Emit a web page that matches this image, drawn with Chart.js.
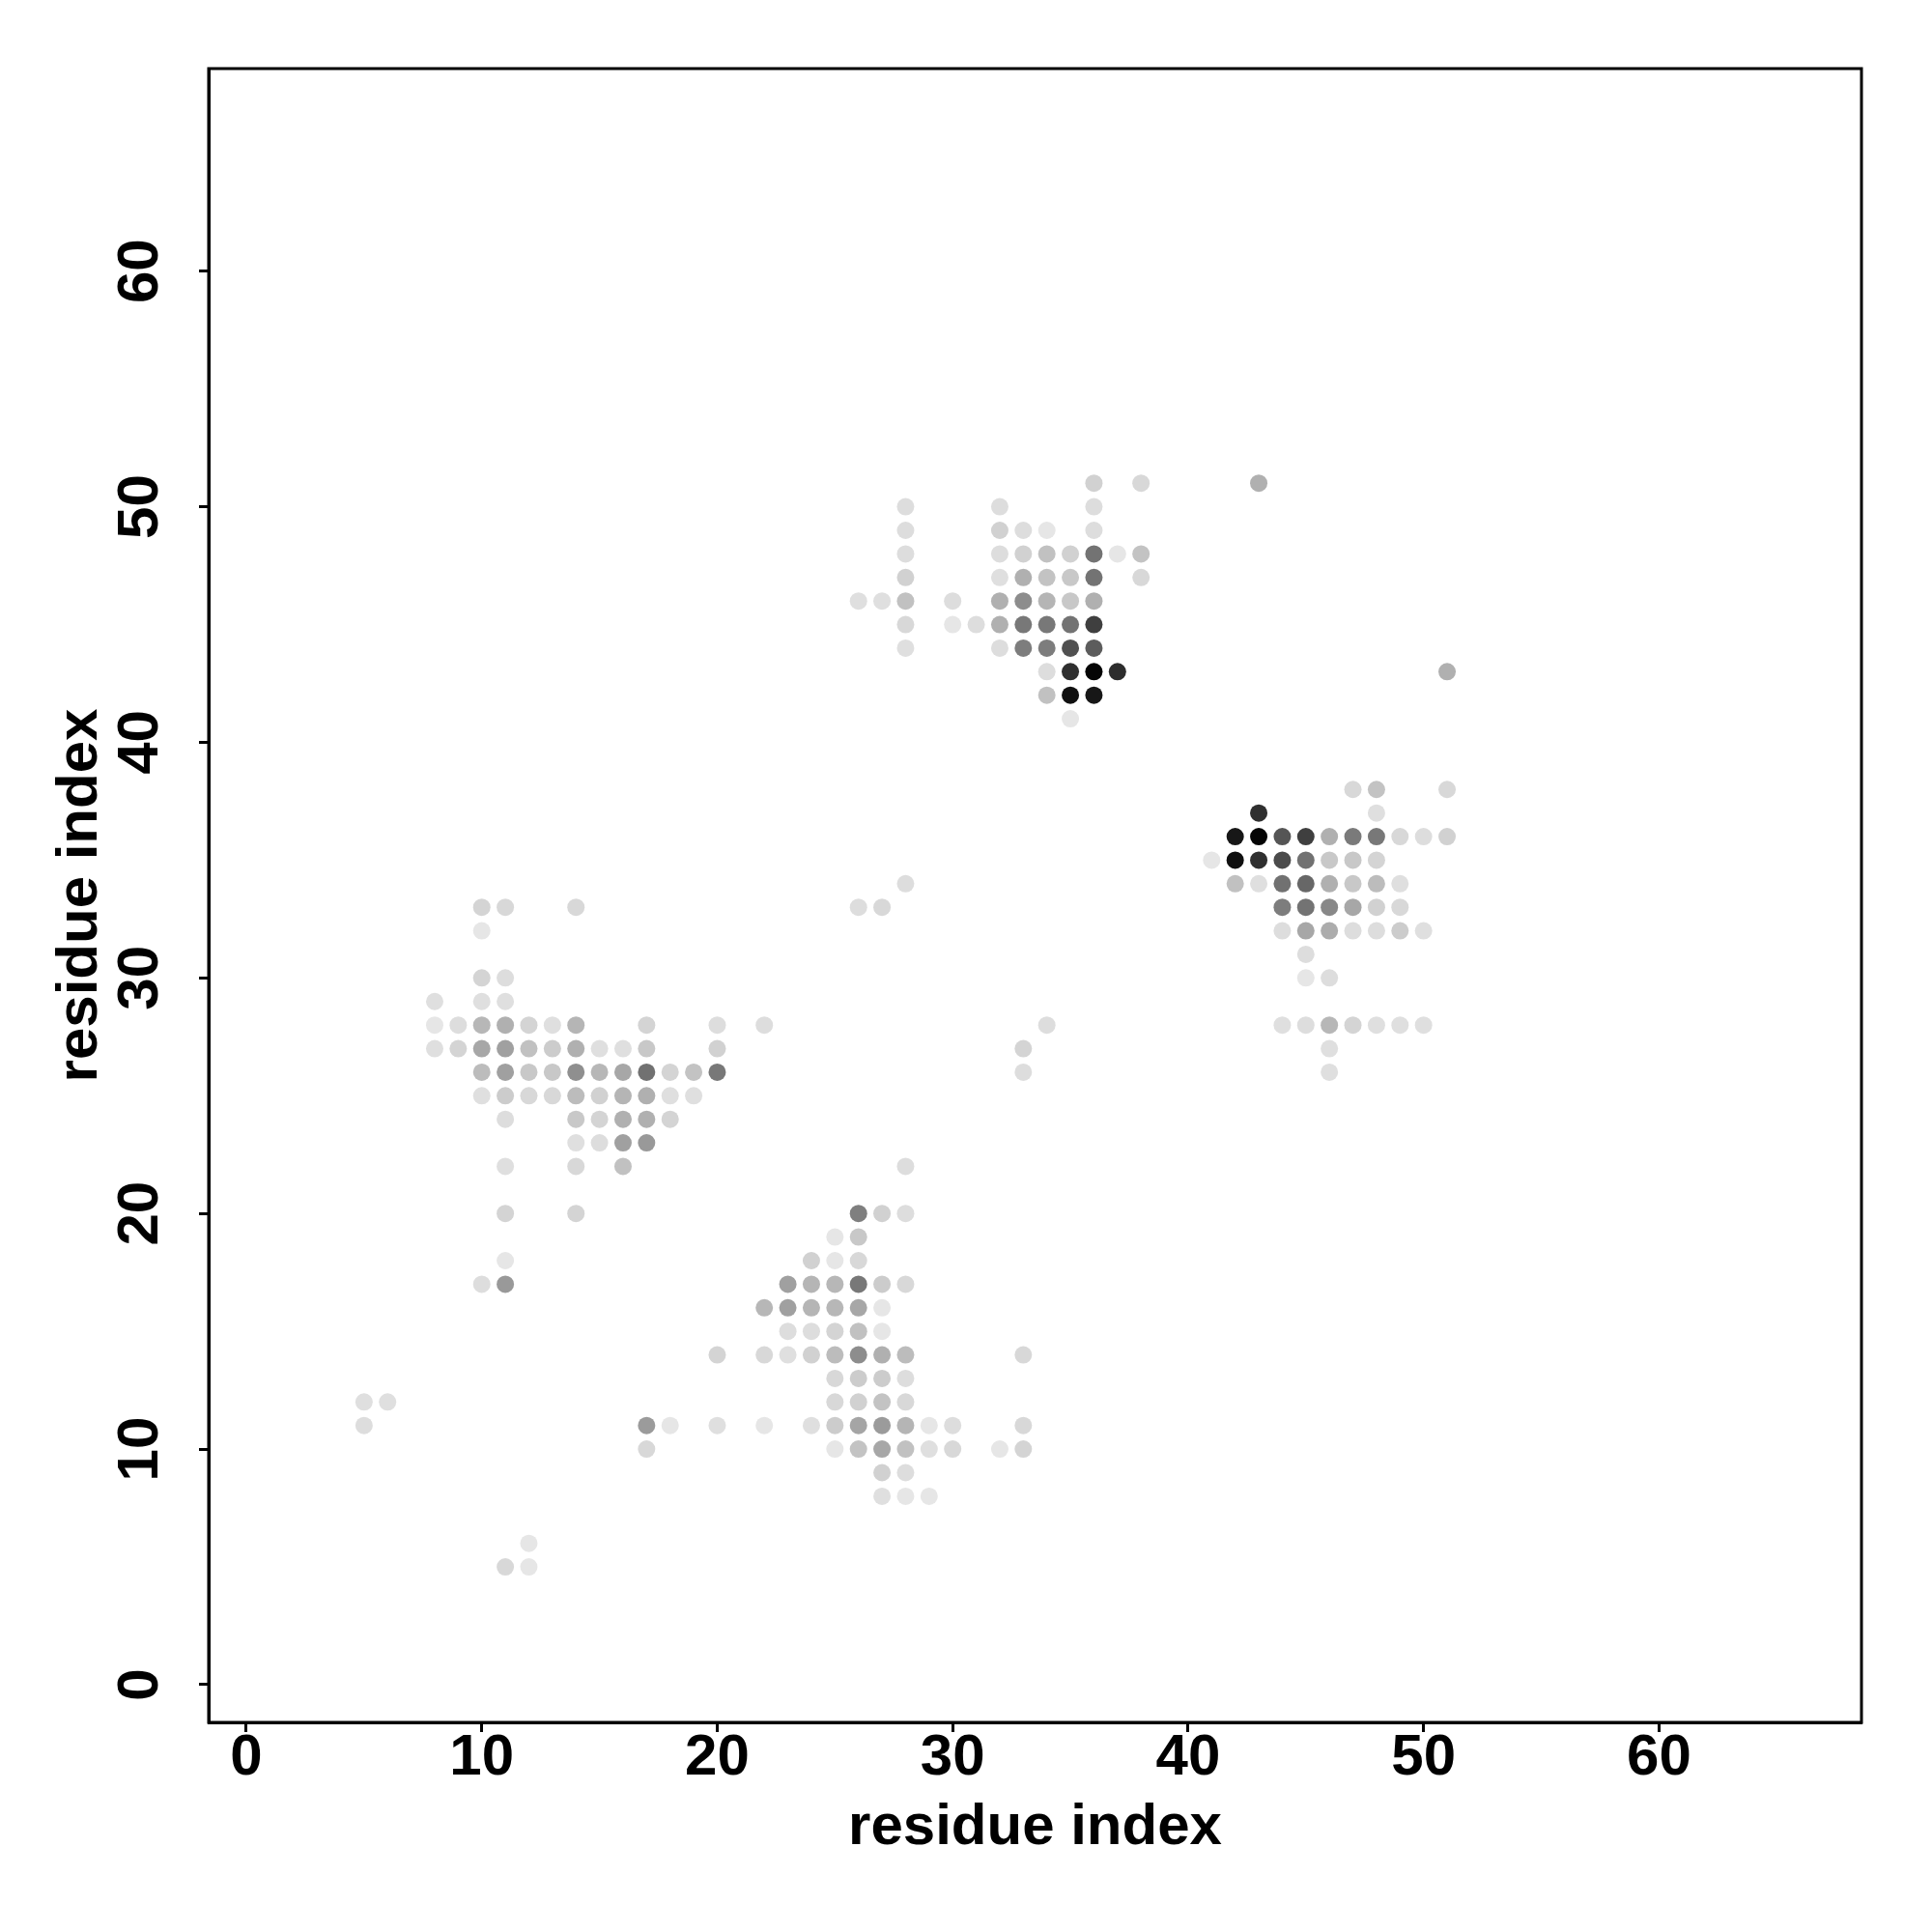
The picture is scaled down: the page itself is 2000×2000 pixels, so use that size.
<!DOCTYPE html>
<html>
<head>
<meta charset="utf-8">
<script src="https://cdn.jsdelivr.net/npm/chart.js@4"></script>
<style>
  body { margin: 0; background: #fff; }
  canvas { display: block; }
</style>
</head>
<body>
<canvas id="cmap" width="2000" height="2000"></canvas>
<script>
// contact map: residue i, residue j, contact probability
var resI = [
    // lower left block
    10, 11, 14,
    10,
    10, 11,
    8, 10, 11,
    8, 9, 10, 11, 12, 13, 14, 17, 20, 22,
    8, 9, 10, 11, 12, 13, 14, 15, 16, 17, 20,
    10, 11, 12, 13, 14, 15, 16, 17, 18, 19, 20,
    10, 11, 12, 13, 14, 15, 16, 17, 18, 19,
    11, 14, 15, 16, 17, 18,
    14, 15, 16, 17,
    11, 14, 16,
    11, 14,
    11,
    10, 11,
    20,
    17, 18, 20,
    17,
    5, 6,
    5,
    12,
    11, 12,
    // lower middle block
    28,
    26, 27, 28,
    25, 26,
    24, 25, 26,
    23, 24, 25, 26, 27, 28,
    22, 23, 24, 25, 26, 27,
    23, 24, 25, 26, 27,
    22, 23, 24, 25, 26, 27, 28, 33,
    25, 26, 27, 28,
    25, 26, 27, 28,
    22, 24, 25, 26, 27, 28, 29, 30, 33,
    25, 26, 27, 28, 29, 30, 32, 33,
    27, 28,
    27, 28, 29,
    // scattered
    28, 26, 27, 34, 33, 33,
    // upper middle block
    36, 38,
    28, 32, 36,
    28, 32, 33, 34, 36,
    28, 32, 33, 34, 35, 36, 37, 38,
    28, 32, 33, 34, 35, 36, 38,
    26, 27, 28, 30, 32, 33, 34, 35, 36,
    28, 30, 31, 32, 33, 34, 35, 36,
    28, 32, 33, 34, 35, 36,
    34, 35, 36, 37,
    34, 35, 36,
    35,
    43, 51,
    // right block
    47, 48, 51,
    43, 48,
    42, 43, 44, 45, 46, 47, 48, 49, 50, 51,
    41, 42, 43, 44, 45, 46, 47, 48,
    42, 43, 44, 45, 46, 47, 48, 49,
    44, 45, 46, 47, 48, 49,
    44, 45, 46, 47, 48, 49, 50,
    45,
    45, 46,
    44, 45, 46, 47, 48, 49, 50,
    46,
    46
];

var resJ = [
    33, 33, 33,
    32,
    30, 30,
    29, 29, 29,
    28, 28, 28, 28, 28, 28, 28, 28, 28, 28,
    27, 27, 27, 27, 27, 27, 27, 27, 27, 27, 27,
    26, 26, 26, 26, 26, 26, 26, 26, 26, 26, 26,
    25, 25, 25, 25, 25, 25, 25, 25, 25, 25,
    24, 24, 24, 24, 24, 24,
    23, 23, 23, 23,
    22, 22, 22,
    20, 20,
    18,
    17, 17,
    14,
    11, 11, 11,
    10,
    12, 12,
    11,
    6,
    5, 5,

    22,
    20, 20, 20,
    19, 19,
    18, 18, 18,
    17, 17, 17, 17, 17, 17,
    16, 16, 16, 16, 16, 16,
    15, 15, 15, 15, 15,
    14, 14, 14, 14, 14, 14, 14, 14,
    13, 13, 13, 13,
    12, 12, 12, 12,
    11, 11, 11, 11, 11, 11, 11, 11, 11,
    10, 10, 10, 10, 10, 10, 10, 10,
    9, 9,
    8, 8, 8,

    34, 33, 33, 28, 27, 26,

    51, 51,
    50, 50, 50,
    49, 49, 49, 49, 49,
    48, 48, 48, 48, 48, 48, 48, 48,
    47, 47, 47, 47, 47, 47, 47,
    46, 46, 46, 46, 46, 46, 46, 46, 46,
    45, 45, 45, 45, 45, 45, 45, 45,
    44, 44, 44, 44, 44, 44,
    43, 43, 43, 43,
    42, 42, 42,
    41,
    51, 43,

    38, 38, 38,
    37, 37,
    36, 36, 36, 36, 36, 36, 36, 36, 36, 36,
    35, 35, 35, 35, 35, 35, 35, 35,
    34, 34, 34, 34, 34, 34, 34, 34,
    33, 33, 33, 33, 33, 33,
    32, 32, 32, 32, 32, 32, 32,
    31,
    30, 30,
    28, 28, 28, 28, 28, 28, 28,
    27,
    26
];

var prob = [
    .10, .08, .08,
    .02,
    .10, .06,
    .05, .05, .05,
    .02, .06, .22, .25, .10, .05, .23, .10, .06, .06,
    .05, .10, .29, .32, .18, .13, .25, .05, .05, .15, .11,
    .20, .32, .15, .15, .39, .22, .29, .52, .10, .17, .49,
    .05, .13, .08, .08, .20, .11, .23, .25, .05, .05,
    .06, .15, .10, .25, .25, .10,
    .05, .06, .32, .35,
    .05, .08, .18,
    .10, .10,
    .02,
    .06, .35,
    .10,
    .34, .02, .05,
    .08,
    .05, .05,
    .06,
    .02,
    .08, .02,

    .06,
    .46, .11, .06,
    .02, .15,
    .11, .02, .08,
    .32, .23, .22, .49, .13, .08,
    .22, .32, .23, .22, .29, .02,
    .06, .06, .10, .18, .02,
    .08, .05, .11, .20, .40, .25, .20, .08,
    .08, .13, .13, .06,
    .08, .11, .17, .08,
    .02, .05, .13, .30, .34, .23, .02, .06, .08,
    .02, .17, .29, .18, .05, .08, .02, .10,
    .11, .06,
    .05, .02, .02,

    .06, .06, .08, .06, .10, .06,

    .11, .08,
    .06, .06, .06,
    .06, .11, .06, .02, .06,
    .06, .06, .11, .18, .11, .51, .02, .17,
    .11, .05, .25, .17, .15, .51, .08,
    .05, .05, .18, .06, .25, .40, .23, .15, .25,
    .08, .02, .06, .25, .49, .49, .51, .73,
    .05, .06, .47, .47, .66, .61,
    .06, .80, .98, .81,
    .18, .93, .90,
    .02,
    .25, .25,

    .08, .17, .08,
    .80, .05,
    .90, .98, .64, .73, .25, .48, .49, .08, .06, .11,
    .02, .93, .80, .68, .52, .15, .15, .10,
    .18, .05, .52, .56, .25, .15, .20, .05,
    .47, .51, .42, .29, .11, .08,
    .06, .29, .27, .06, .06, .13, .05,
    .06,
    .02, .06,
    .05, .06, .22, .10, .05, .05, .05,
    .05,
    .05
];

var xTicks = [0, 10, 20, 30, 40, 50, 60];
var axisMin = -1.6, axisMax = 68.6;

function greyOf(p) {
    var g = Math.round(235 * (1 - p));
    return 'rgb(' + g + ',' + g + ',' + g + ')';
}

var points = [];
var colors = [];
for (var i = 0; i < resI.length; i++) {
    points.push({ x: resI[i], y: resJ[i] });
    colors.push(greyOf(prob[i]));
}

var tickFont = { family: "'Liberation Sans', Arial, Helvetica, sans-serif", size: 60, weight: 'bold', lineHeight: 1 };
var titleFont = { family: "'Liberation Sans', Arial, Helvetica, sans-serif", size: 60, weight: 'bold', lineHeight: 1.2 };

var boxPlugin = {
    id: 'box',
    afterDraw: function (chart) {
        var a = chart.chartArea, ctx = chart.ctx;
        ctx.save();
        ctx.strokeStyle = '#000';
        ctx.lineWidth = 3;
        ctx.strokeRect(a.left, a.top, a.right - a.left, a.bottom - a.top);
        ctx.restore();
    }
};

function keepTicks(scale) {
    scale.ticks = xTicks.map(function (v) { return { value: v }; });
}

var chart = new Chart(document.getElementById('cmap'), {
    type: 'scatter',
    data: {
        datasets: [{
            data: points,
            pointBackgroundColor: colors,
            pointBorderWidth: 0,
            pointRadius: 9,
            pointHoverRadius: 9
        }]
    },
    options: {
        responsive: false,
        animation: false,
        devicePixelRatio: 1,
        layout: { padding: { top: 71, right: 73, left: 0, bottom: 0 } },
        plugins: { legend: { display: false }, tooltip: { enabled: false } },
        scales: {
            x: {
                type: 'linear',
                min: axisMin,
                max: axisMax,
                afterBuildTicks: keepTicks,
                afterFit: function (s) { s.height = 217; },
                grid: { drawOnChartArea: false, drawTicks: true, tickLength: 10, tickWidth: 3, tickColor: '#000' },
                border: { display: true, color: '#000', width: 3 },
                ticks: { font: tickFont, color: '#000', padding: -3, maxRotation: 0 },
                title: { display: true, text: 'residue index', font: titleFont, color: '#000', padding: { top: 0, bottom: 72 } }
            },
            y: {
                type: 'linear',
                min: axisMin,
                max: axisMax,
                afterBuildTicks: keepTicks,
                afterFit: function (s) { s.width = 216; },
                grid: { drawOnChartArea: false, drawTicks: true, tickLength: 10, tickWidth: 3, tickColor: '#000' },
                border: { display: true, color: '#000', width: 3 },
                ticks: { font: tickFont, color: '#000', padding: 26, minRotation: 90, maxRotation: 90, crossAlign: 'center' },
                title: { display: true, text: 'residue index', font: titleFont, color: '#000', padding: { top: 47, bottom: 0 } }
            }
        }
    },
    plugins: [boxPlugin]
});
</script>
</body>
</html>
